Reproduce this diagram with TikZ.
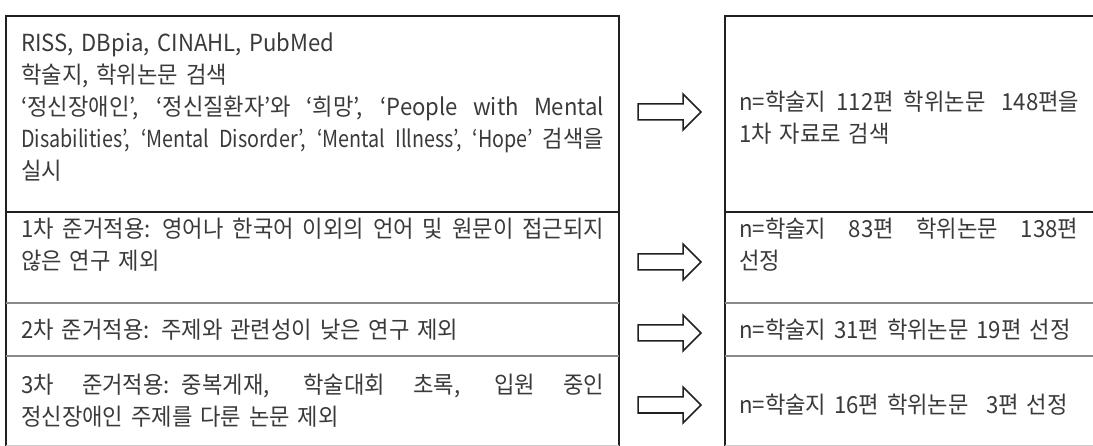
\documentclass[tikz,border=0pt]{standalone}
\usepackage{fontspec}
\setmainfont{Noto Sans CJK KR}
\newfontfamily\kr{Noto Sans CJK KR}[FakeStretch=0.945]
\newfontfamily\lat{Noto Sans CJK KR}[FakeStretch=0.84]
\newfontfamily\latw{Noto Sans CJK KR}[FakeStretch=0.94]
\definecolor{framecol}{HTML}{231F20}
\definecolor{rulecol}{HTML}{8A8A8A}
\definecolor{textcol}{HTML}{3A3A3A}
\newcommand{\jl}[2]{{\spaceskip=0.22em plus 1fil\relax\makebox[#1][s]{#2}}}
\tikzset{
  txt/.style={anchor=west, inner sep=0pt, text width=#1, align=left,
    font=\kr\fontsize{23.5}{32}\selectfont, text=textcol},
  frame/.style={draw=framecol, line width=1.8pt},
  darkrule/.style={draw=framecol, line width=1.4pt},
  greyrule/.style={draw=rulecol, line width=1.4pt},
  baserule/.style={draw=black!20, line width=0.8pt},
  arrowline/.style={draw=framecol, line width=1.5pt, fill=white, line join=miter},
  blockarrow/.pic={\path[arrowline] (0,-8) -- (45,-8) -- (45,-18) -- (63,0) -- (45,18) -- (45,8) -- (0,8) -- cycle;}
}
\begin{document}
\begin{tikzpicture}[x=1pt,y=-1pt]
\useasboundingbox (0,0) rectangle (1093,446);
% column frames
\path[frame] (6,446) -- (6,16) -- (619,16) -- (619,446);
\path[frame] (725,446) -- (725,16) -- (1093,16);
% row rules
\path[darkrule] (6,212) -- (619,212);
\path[darkrule] (725,212) -- (1093,212);
\path[greyrule] (6,303) -- (619,303);
\path[greyrule] (725,303) -- (1093,303);
\path[greyrule] (6,356) -- (619,356);
\path[greyrule] (725,356) -- (1093,356);
\path[baserule] (6,445) -- (619,445);
\path[baserule] (725,445) -- (1093,445);
% left column texts
\node[txt=590pt] (l1) at (21,107) {{\latw RISS, DBpia, CINAHL, PubMed}\\
학술지, 학위논문 검색\\
\jl{583pt}{‘정신장애인’, ‘정신질환자’와 ‘희망’, {\latw ‘People} {\latw with} {\latw Mental}}\\
\jl{583pt}{{\lat Disabilities’,} {\lat ‘Mental} {\lat Disorder’,} {\lat ‘Mental} {\lat Illness’,} {\lat ‘Hope’} 검색을}\\
실시};
\node[txt=590pt] (l2) at (21,245) {\jl{583pt}{1차 준거적용: 영어나 한국어 이외의 언어 및 원문이 접근되지}\\
않은 연구 제외};
\node[txt=590pt] (l3) at (21,330) {2차 준거적용: 주제와 관련성이 낮은 연구 제외};
\node[txt=590pt] (l4) at (21,401) {\jl{583pt}{3차 준거적용: 중복게재, 학술대회 초록, 입원 중인}\\
정신장애인 주제를 다룬 논문 제외};
% right column texts
\node[txt=350pt] (r1) at (739,118) {\jl{340pt}{n=학술지 112편 학위논문\hspace{0.25em} 148편을}\\
1차 자료로 검색};
\node[txt=350pt] (r2) at (739,245) {\jl{339pt}{n=학술지 83편 학위논문 138편}\\
선정};
\node[txt=350pt] (r3) at (739,330) {n=학술지 31편 학위논문 19편 선정};
\node[txt=350pt] (r4) at (739,405) {n=학술지 16편 학위논문\hspace{0.4em} 3편 선정};
% block arrows
\pic at (638,112) {blockarrow};
\pic at (638,262) {blockarrow};
\pic at (638,333) {blockarrow};
\pic at (638,405) {blockarrow};
\end{tikzpicture}
\end{document}
